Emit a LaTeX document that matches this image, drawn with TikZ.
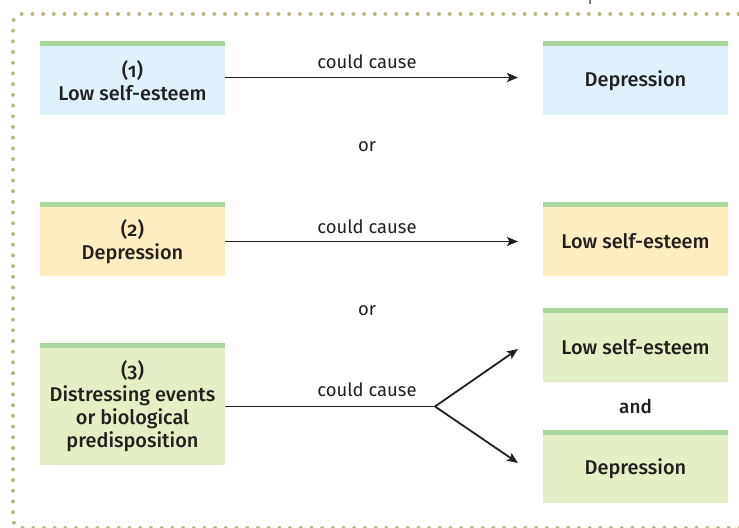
\documentclass[tikz,border=0pt]{standalone}
\usepackage{fontspec}
\setmainfont{Fira Sans}[Numbers=OldStyle]
\newfontfamily\boxfont{Fira Sans Medium}[Numbers=OldStyle]
\usetikzlibrary{arrows.meta}
\definecolor{bluebox}{HTML}{DFF1FB}
\definecolor{yellowbox}{HTML}{FEEDBE}
\definecolor{greenbox}{HTML}{E5EFC5}
\definecolor{stripgreen}{HTML}{A9D69B}
\definecolor{dotcol}{HTML}{BEB781}
\definecolor{ink}{HTML}{231F20}
\tikzset{
  box/.style={inner sep=0pt, minimum width=185bp, align=center, text=ink,
    font=\boxfont\fontsize{20}{23.5}\selectfont},
  lbl/.style={inner sep=0pt, text=ink, font=\fontsize{18.5}{22}\selectfont},
  arr/.style={draw=ink, line width=1.8bp, -{Stealth[length=11bp,width=9bp,inset=2.5bp]}},
  plain/.style={draw=ink, line width=1.8bp},
  dotborder/.style={draw=dotcol, line width=4bp, line cap=round, dash pattern=on 0bp off 10.7bp}
}
\begin{document}
\begin{tikzpicture}[x=1bp,y=-1bp]
\useasboundingbox (0,0) rectangle (739,528);
\begin{scope}
\clip (0,0) rectangle (739,528);
\draw[dotborder, rounded corners=9bp] (760,14) -- (13,14) -- (13,528) -- (760,528);
\draw[draw=gray, line width=1.2bp] (590,0) -- (590,4);
\end{scope}

% boxes
\node[box, fill=bluebox, minimum height=69bp] (b1) at (132.5,80.5) {(1)\\Low self-esteem};
\node[box, fill=bluebox, minimum height=69bp] (r1) at (635.5,80.5) {Depression};
\node[box, fill=yellowbox, minimum height=69bp] (b2) at (132.5,241.5) {(2)\\Depression};
\node[box, fill=yellowbox, minimum height=69bp] (r2) at (635.5,241.5) {Low self-esteem};
\node[box, fill=greenbox, minimum height=117bp] (b3) at (132.5,406.5) {(3)\\Distressing events\\or biological\\predisposition};
\node[box, fill=greenbox, minimum height=69bp] (r3a) at (635.5,347.5) {Low self-esteem};
\node[box, fill=greenbox, minimum height=68bp] (r3b) at (635.5,469) {Depression};

\foreach \n in {b1,r1,b2,r2,b3,r3a,r3b}
  \fill[stripgreen] (\n.north west) rectangle ([yshift=5bp]\n.north east);

% labels
\node[lbl] (c1) at (367,62) {could cause};
\node[lbl] (c2) at (367,227) {could cause};
\node[lbl] (c3) at (367,390) {could cause};
\node[lbl] (or1) at (367,147) {or};
\node[lbl] (or2) at (367,311) {or};
\node[lbl, font=\boxfont\fontsize{19}{22}\selectfont] (and) at (635.5,406) {and};

% connectors
\coordinate (t1) at (518,77.5);
\coordinate (t2) at (518,241.5);
\coordinate (fork) at (435,406.5);
\coordinate (t3a) at (518,349);
\coordinate (t3b) at (518,463);
\draw[arr] (b1.east |- t1) -- (t1);
\draw[arr] (b2.east) -- (t2);
\draw[plain] (b3.east) -- (fork);
\draw[arr] (fork) -- (t3a);
\draw[arr] (fork) -- (t3b);
\end{tikzpicture}
\end{document}
